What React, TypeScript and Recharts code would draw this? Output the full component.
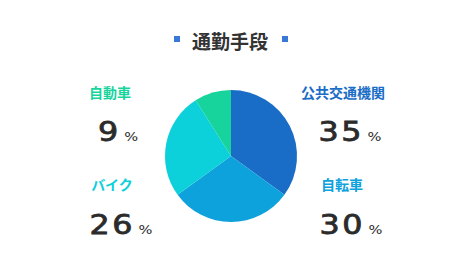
import { PieChart, Pie, Cell } from 'recharts'

const categories = ['公共交通機関', '自転車', 'バイク', '自動車']
const shares = [35, 30, 26, 9]
const title = '通勤手段'

const COLORS = ['#1a6dc6', '#0ea2dd', '#0cd0da', '#17d49c']

// where each category's caption sits (centre x, caption centre y, number baseline y)
const LABEL_POS = [
  { x: 343, y: 92, numX: 350, numY: 143 },
  { x: 342, y: 184, numX: 351, numY: 236 },
  { x: 112, y: 184, numX: 121, numY: 236 },
  { x: 110, y: 92, numX: 118, numY: 143 },
]

const data = categories.map((name, i) => ({ name, value: shares[i] }))

function Square({ left }: { left: number }) {
  return (
    <div
      style={{
        position: 'absolute',
        left,
        top: 36,
        width: 6,
        height: 6,
        background: '#3a78d8',
      }}
    />
  )
}

export default function App() {
  return (
    <div
      style={{
        position: 'absolute',
        left: 0,
        top: 0,
        width: 460,
        height: 280,
        background: '#fff',
        fontFamily: '"Noto Sans CJK JP", "Noto Sans", sans-serif',
      }}
    >
      <PieChart width={460} height={280} margin={{ top: 0, right: 0, bottom: 0, left: 0 }}>
        <Pie
          data={data}
          dataKey="value"
          nameKey="name"
          cx={231}
          cy={156}
          outerRadius={66}
          startAngle={90}
          endAngle={-270}
          stroke="none"
          isAnimationActive={false}
        >
          {data.map((_, index) => (
            <Cell key={index} fill={COLORS[index % COLORS.length]} />
          ))}
        </Pie>
      </PieChart>

      <Square left={174} />
      <Square left={282} />
      <div
        style={{
          position: 'absolute',
          left: 130,
          width: 200,
          top: 28,
          textAlign: 'center',
          fontSize: 19,
          fontWeight: 700,
          color: '#333',
          lineHeight: '26px',
        }}
      >
        {title}
      </div>

      {data.map((d, i) => {
        const p = LABEL_POS[i]
        return (
          <div key={d.name}>
            <div
              style={{
                position: 'absolute',
                left: p.x - 80,
                width: 160,
                top: p.y - 10,
                lineHeight: '20px',
                textAlign: 'center',
                fontSize: 14,
                fontWeight: 700,
                color: COLORS[i],
              }}
            >
              {d.name}
            </div>
            <div
              style={{
                position: 'absolute',
                left: p.numX - 80,
                width: 160,
                top: p.numY - 26,
                height: 30,
                lineHeight: '30px',
                textAlign: 'center',
                color: '#2b2b2b',
                fontFamily: '"DejaVu Sans", sans-serif',
                transform: 'scaleX(1.22)',
                transformOrigin: `80px 0`,
              }}
            >
              <span
                style={{
                  fontSize: 26,
                  letterSpacing: 2,
                  WebkitTextStroke: '0.8px #2b2b2b',
                }}
              >
                {d.value}
              </span>
              <span style={{ fontSize: 12, marginLeft: 3 }}>%</span>
            </div>
          </div>
        )
      })}
    </div>
  )
}
